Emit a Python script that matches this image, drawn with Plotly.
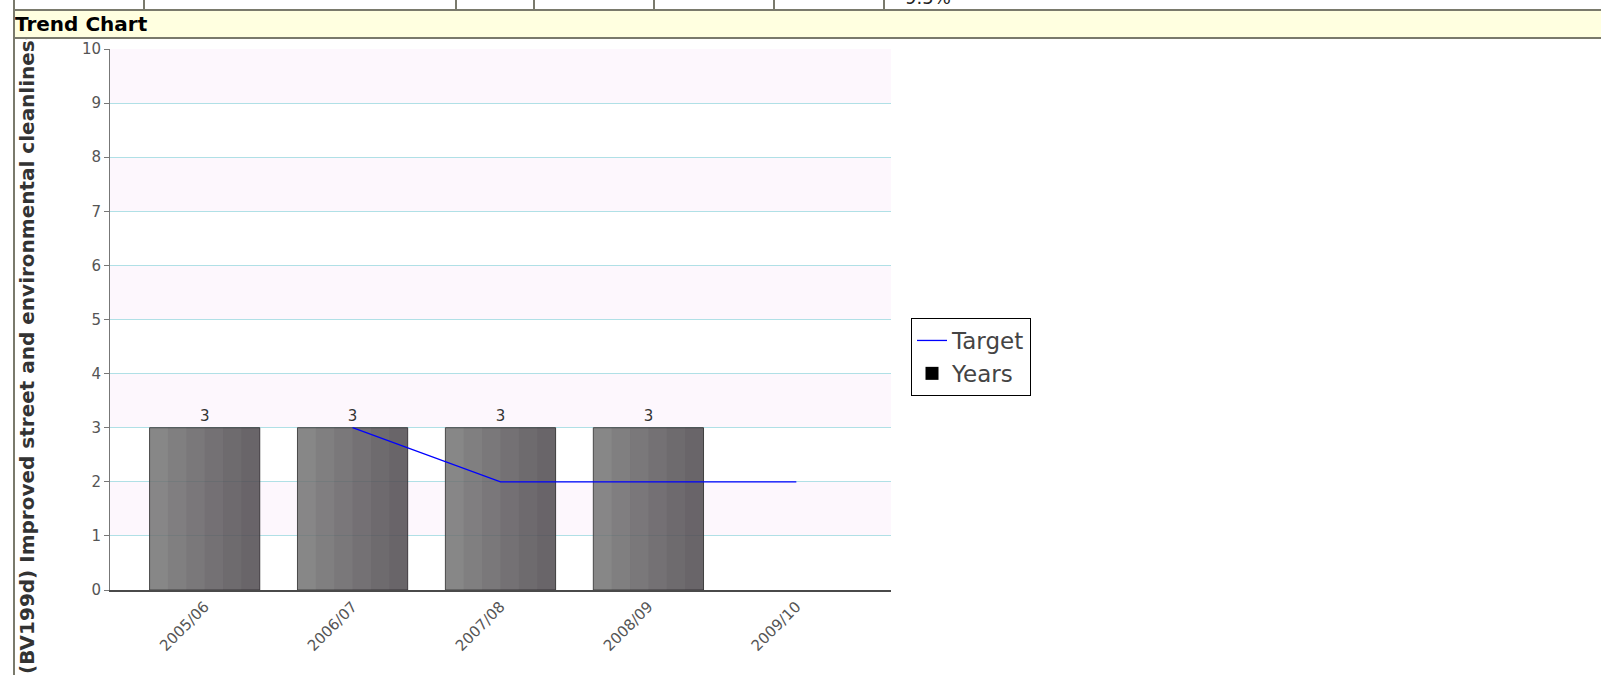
import plotly.graph_objects as go

# ---- data ----
categories = ["2005/06", "2006/07", "2007/08", "2008/09", "2009/10"]
years_values = [3, 3, 3, 3, None]
target_values = [None, 3, 2, 2, 2]
y_ticks = [0, 1, 2, 3, 4, 5, 6, 7, 8, 9, 10]
y_title = "(BV199d) Improved street and environmental cleanliness"
header_text = "Trend Chart"
top_row_text = "9.5%"
top_row_dividers = [143, 455, 533, 653, 773, 883]

# ---- geometry (pixels) ----
FW, FH = 1601, 675
L, R, T, B = 110, 891, 49, 590
W, H = R - L, B - T


def px(x):
    return (x - L) / W


def py(y):
    return (B - y) / H


BORDER = "#7a7a6c"
FONT = "DejaVu Sans"
BAR_W = 0.745
STEPS = 6

fig = go.Figure()

# base bar (lightest shade) with value labels
fig.add_trace(go.Bar(
    x=categories, y=years_values, name="Years",
    width=BAR_W, offset=-BAR_W / 2,
    marker=dict(color="rgba(112,112,112,0.84)", line=dict(color="rgba(60,60,60,0.9)", width=1)),
    text=[("%g" % v) if v is not None else "" for v in years_values],
    textposition="outside", cliponaxis=False,
    textfont=dict(family=FONT, size=15, color="#333333"),
    showlegend=False, hoverinfo="skip",
))
# stepped shading towards the right edge of each bar
for k in range(1, STEPS):
    fig.add_trace(go.Bar(
        x=categories, y=years_values,
        width=BAR_W * (STEPS - k) / STEPS,
        offset=-BAR_W / 2 + BAR_W * k / STEPS,
        marker=dict(color="rgba(40,30,40,0.07)", line=dict(width=0)),
        showlegend=False, hoverinfo="skip",
    ))
fig.add_trace(go.Scatter(
    x=categories, y=target_values, name="Target", mode="lines",
    line=dict(color="#0000ff", width=1.3), showlegend=True,
))
fig.add_trace(go.Scatter(
    x=[None], y=[None], name="Years", mode="markers",
    marker=dict(symbol="square", color="black", size=13),
    showlegend=True,
))

shapes = []
# alternating pink bands
for i in range(len(y_ticks) - 1):
    if y_ticks[i] % 2 == 1:
        shapes.append(dict(type="rect", xref="paper", yref="y", x0=0, x1=1,
                           y0=y_ticks[i], y1=y_ticks[i + 1],
                           fillcolor="#fdf7fd", line=dict(width=0), layer="below"))
# top table row
shapes.append(dict(type="rect", xref="paper", yref="paper", x0=px(13), x1=px(FW + 5),
                   y0=py(9), y1=py(11), fillcolor=BORDER, line=dict(width=0)))
for d in top_row_dividers:
    shapes.append(dict(type="rect", xref="paper", yref="paper", x0=px(d), x1=px(d + 2),
                       y0=py(-5), y1=py(10), fillcolor=BORDER, line=dict(width=0)))
# left border
shapes.append(dict(type="rect", xref="paper", yref="paper", x0=px(13), x1=px(15),
                   y0=py(-5), y1=py(FH + 5), fillcolor=BORDER, line=dict(width=0)))

annotations = [
    dict(text="<b>%s</b>" % y_title, textangle=-90, xref="paper", yref="paper",
         x=px(27), y=py(676), xanchor="center", yanchor="bottom", showarrow=False,
         font=dict(family=FONT, size=20, color="#333333")),
    dict(text="<b>%s</b>" % header_text, xref="paper", yref="paper",
         x=px(13), y=py(9), xanchor="left", yanchor="top", showarrow=False,
         width=FW, height=26, align="left", valign="middle",
         bgcolor="#ffffe0", bordercolor=BORDER, borderwidth=2, borderpad=0,
         font=dict(family=FONT, size=20, color="black")),
    dict(text=top_row_text, xref="paper", yref="paper",
         x=px(903), y=py(10), xanchor="left", yanchor="bottom", showarrow=False,
         font=dict(family=FONT, size=18, color="#222222")),
]

fig.update_layout(
    width=FW, height=FH,
    margin=dict(l=L, r=FW - R, t=T, b=FH - B, pad=0),
    paper_bgcolor="white", plot_bgcolor="white",
    font=dict(family=FONT, color="#555555"),
    barmode="overlay",
    shapes=shapes, annotations=annotations,
    legend=dict(x=px(911), y=py(318), xanchor="left", yanchor="top",
                bordercolor="black", borderwidth=1, bgcolor="white",
                font=dict(family=FONT, size=23, color="#444444"),
                tracegroupgap=0),
    xaxis=dict(type="category", range=[-0.64, 4.64], showgrid=False,
               showline=True, linecolor="#4a4a4a", linewidth=2,
               ticks="", tickangle=-45,
               tickfont=dict(family=FONT, size=15, color="#555555"),
               fixedrange=True),
    yaxis=dict(range=[0, 10], tickvals=y_ticks, showgrid=True,
               gridcolor="#b0e0e6", gridwidth=1, zeroline=False,
               showline=True, linecolor="#777777", linewidth=1,
               ticks="outside", ticklen=5, tickcolor="#777777",
               tickfont=dict(family=FONT, size=15, color="#555555"),
               fixedrange=True),
    showlegend=True,
)

fig.write_html("out.html", config={"displayModeBar": False, "staticPlot": True},
               post_script="document.body.style.margin='0';document.body.style.overflow='hidden';")
